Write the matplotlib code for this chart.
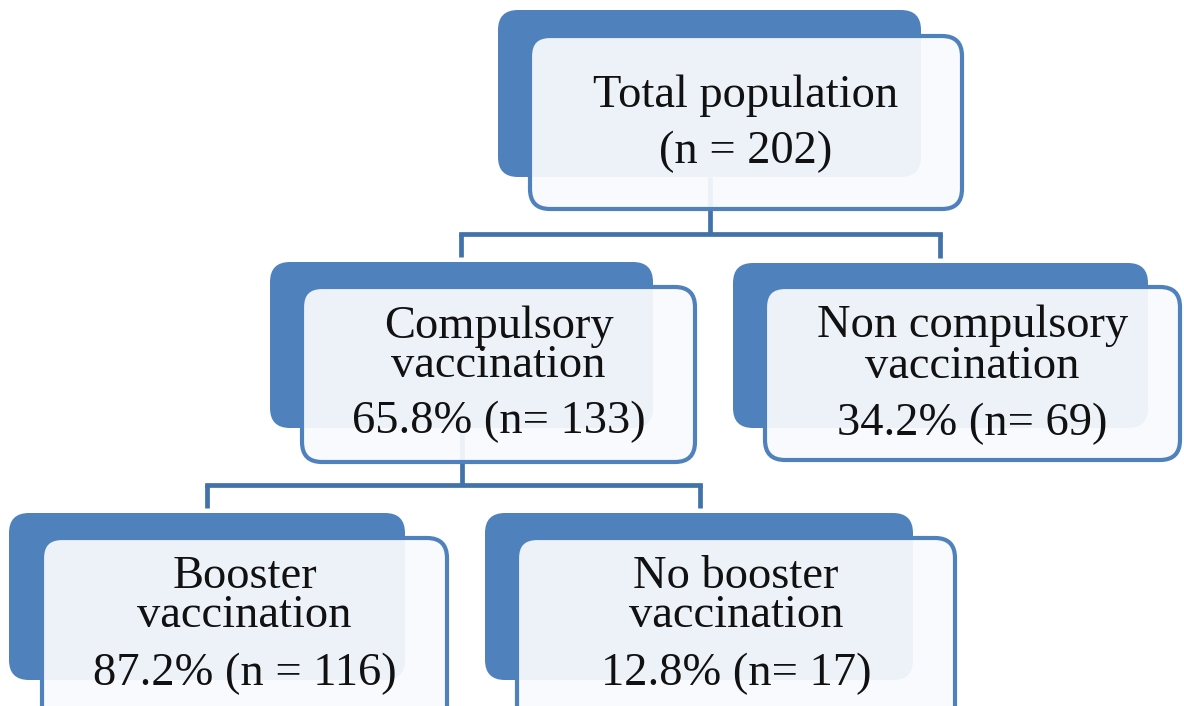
import matplotlib
matplotlib.use("Agg")
import matplotlib.pyplot as plt
from matplotlib.patches import FancyBboxPatch

# node content
node_titles = ["Total population", "Compulsory\nvaccination", "Non compulsory\nvaccination",
               "Booster\nvaccination", "No booster\nvaccination"]
node_pct = [None, 65.8, 34.2, 87.2, 12.8]
node_n = [202, 133, 69, 116, 17]
node_eq = ["n = ", "n= ", "n= ", "n = ", "n= "]
parents = [None, 0, 0, 1, 1]

# layout in pixels (y downwards)
back_boxes = [(498, 10, 921, 177), (270, 262, 653, 428), (733, 263, 1148, 428),
              (9, 513, 405, 680), (485, 513, 913, 680)]
front_boxes = [(530, 36, 962, 209), (302, 287, 695, 462), (765, 287, 1180, 460),
               (42, 538, 447, 730), (517, 538, 955, 730)]
baselines = [(107, 163), (338, 377, 433), (337, 378, 435), (588, 627, 685), (588, 627, 685)]
drop_x = {0: 710, 1: 462}
bus_y = {0: 234, 1: 485}
stub_x = {1: 461, 2: 940, 3: 207, 4: 700}

BACK = "#4f81bd"
LINE = "#4172aa"

fig = plt.figure(figsize=(11.84, 7.06), dpi=100)
ax = fig.add_axes([0, 0, 1, 1])
ax.set_xlim(0, 1184)
ax.set_ylim(706, 0)
ax.axis("off")


def rbox(x0, y0, x1, y1, **kw):
    return FancyBboxPatch((x0, y0), x1 - x0, y1 - y0,
                          boxstyle="round,pad=0,rounding_size=20", **kw)


# connectors (under the front boxes)
for p in drop_x:
    kids = [i for i, q in enumerate(parents) if q == p]
    py = back_boxes[p][3]
    ax.plot([drop_x[p], drop_x[p]], [py, bus_y[p]], color=LINE, lw=3.4,
            solid_capstyle="butt", zorder=2)
    xs = [stub_x[k] for k in kids]
    ax.plot([min(xs), max(xs)], [bus_y[p], bus_y[p]], color=LINE, lw=3.4,
            solid_capstyle="projecting", zorder=2)
    for k in kids:
        ax.plot([stub_x[k], stub_x[k]], [bus_y[p], back_boxes[k][1] - 5], color=LINE,
                lw=3.4, solid_capstyle="butt", zorder=2)

for i, title in enumerate(node_titles):
    ax.add_patch(rbox(*back_boxes[i], facecolor=BACK, edgecolor="none", zorder=1))
    ax.add_patch(rbox(*front_boxes[i], facecolor="#f8fafd", alpha=0.94,
                      edgecolor="none", zorder=3))
    ax.add_patch(rbox(*front_boxes[i], facecolor="none", edgecolor=BACK,
                      lw=3.0, zorder=4))

    if node_pct[i] is None:
        value = f"({node_eq[i]}{node_n[i]})"
    else:
        value = f"{node_pct[i]:.1f}% ({node_eq[i]}{node_n[i]})"
    lines = title.split("\n") + [value]
    cx = (front_boxes[i][0] + front_boxes[i][2]) / 2
    for txt, by in zip(lines, baselines[i]):
        ax.text(cx, by, txt, ha="center", va="baseline", fontsize=33.5,
                family="Liberation Serif", color="#111111", zorder=5)

fig.savefig("out.png", dpi=100)
